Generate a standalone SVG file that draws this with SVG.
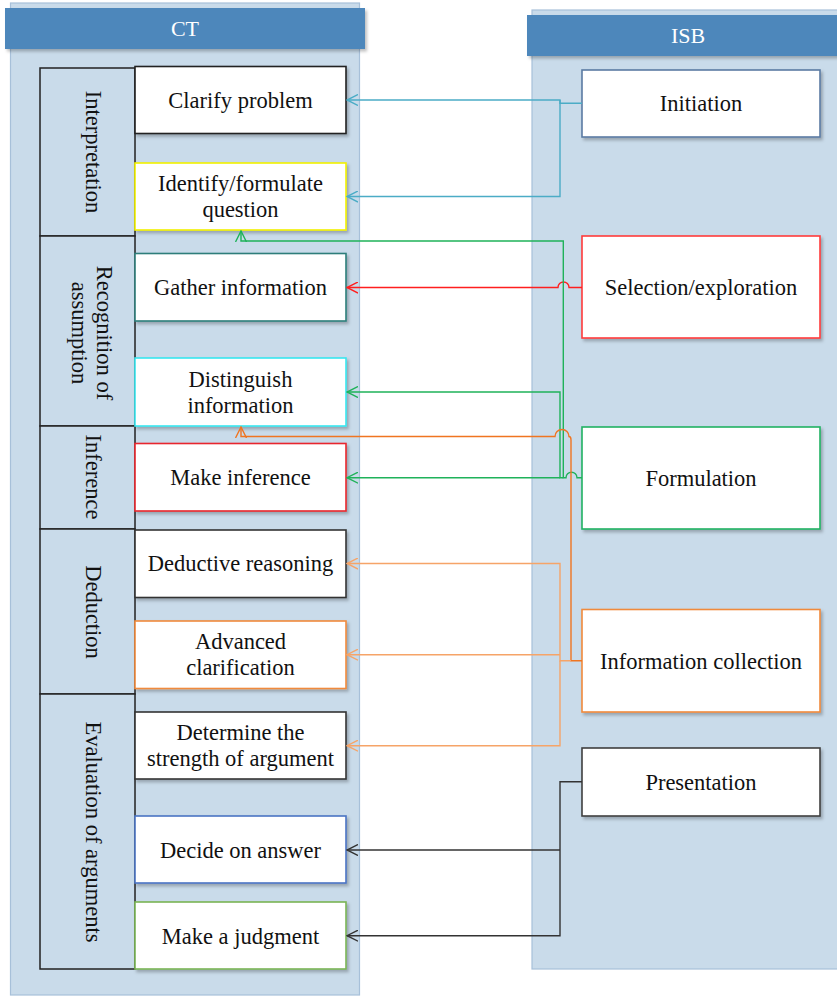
<svg xmlns="http://www.w3.org/2000/svg" width="837" height="996" viewBox="0 0 837 996">
<style>
  .panel{fill:#c9dbea;stroke:#a7c0d9;stroke-width:1.2}
  .hdr{fill:#4e87bb;filter:url(#sh)}
  .hdrt{font-family:"Liberation Serif","Times New Roman",serif;font-size:22px;fill:#ffffff;text-anchor:middle}
  .cat{fill:#c9dbea;stroke:#222;stroke-width:1.5}
  .box{fill:#ffffff;stroke-width:1.6;filter:url(#sh)}
  .t{font-family:"Liberation Serif","Times New Roman",serif;font-size:22.5px;fill:#111;text-anchor:middle;dominant-baseline:central}
  .vt{font-family:"Liberation Serif","Times New Roman",serif;font-size:22.5px;fill:#111;text-anchor:middle;dominant-baseline:central}
  .c{fill:none;stroke-width:1.4}
</style>
<defs>
  <filter id="sh" x="-10%" y="-10%" width="130%" height="130%">
    <feDropShadow dx="2" dy="2.5" stdDeviation="1.5" flood-color="#000" flood-opacity="0.25"/>
  </filter>
  <marker id="aB" viewBox="0 0 12 12" refX="11" refY="6" markerWidth="12" markerHeight="12" markerUnits="userSpaceOnUse" orient="auto"><path d="M0,0.5 L11,6 L0,11.5" fill="none" stroke="#4bacc6" stroke-width="1.4"/></marker>
  <marker id="aR" viewBox="0 0 12 12" refX="11" refY="6" markerWidth="12" markerHeight="12" markerUnits="userSpaceOnUse" orient="auto"><path d="M0,0.5 L11,6 L0,11.5" fill="none" stroke="#ff1f1f" stroke-width="1.4"/></marker>
  <marker id="aG" viewBox="0 0 12 12" refX="11" refY="6" markerWidth="12" markerHeight="12" markerUnits="userSpaceOnUse" orient="auto"><path d="M0,0.5 L11,6 L0,11.5" fill="none" stroke="#1fb25a" stroke-width="1.4"/></marker>
  <marker id="aO" viewBox="0 0 12 12" refX="11" refY="6" markerWidth="12" markerHeight="12" markerUnits="userSpaceOnUse" orient="auto"><path d="M0,0.5 L11,6 L0,11.5" fill="none" stroke="#f07521" stroke-width="1.4"/></marker>
  <marker id="aL" viewBox="0 0 12 12" refX="11" refY="6" markerWidth="12" markerHeight="12" markerUnits="userSpaceOnUse" orient="auto"><path d="M0,0.5 L11,6 L0,11.5" fill="none" stroke="#f6a468" stroke-width="1.4"/></marker>
  <marker id="aK" viewBox="0 0 12 12" refX="11" refY="6" markerWidth="12" markerHeight="12" markerUnits="userSpaceOnUse" orient="auto"><path d="M0,0.5 L11,6 L0,11.5" fill="none" stroke="#333333" stroke-width="1.4"/></marker>
</defs>
<rect width="837" height="996" fill="#ffffff"/>

<g id="panel-ct">
  <rect class="panel" x="10.5" y="3" width="349" height="992"/>
  <rect class="hdr" x="5" y="8" width="360" height="41"/>
  <text class="hdrt" x="185" y="36">CT</text>
</g>
<g id="panel-isb">
  <rect class="panel" x="532" y="10" width="310" height="959"/>
  <rect class="hdr" x="527" y="15" width="315" height="41"/>
  <text class="hdrt" x="688" y="43">ISB</text>
</g>

<g id="cat-interpretation">
  <rect class="cat" x="40" y="68" width="95" height="168"/>
  <text class="vt" transform="translate(93,152) rotate(90)">Interpretation</text>
</g>
<g id="cat-recognition">
  <rect class="cat" x="40" y="236" width="95" height="190"/>
  <text class="vt" transform="translate(92.5,333) rotate(90)"><tspan x="0" y="-12.5">Recognition of</tspan><tspan x="0" y="12.5">assumption</tspan></text>
</g>
<g id="cat-inference">
  <rect class="cat" x="40" y="426" width="95" height="103"/>
  <text class="vt" transform="translate(93,477) rotate(90)">Inference</text>
</g>
<g id="cat-deduction">
  <rect class="cat" x="40" y="529" width="95" height="165"/>
  <text class="vt" transform="translate(93,612) rotate(90)">Deduction</text>
</g>
<g id="cat-evaluation">
  <rect class="cat" x="40" y="694" width="95" height="275"/>
  <text class="vt" transform="translate(93,832) rotate(90)">Evaluation of arguments</text>
</g>

<g id="clarify-problem">
  <rect class="box" x="135" y="66.5" width="211" height="67" stroke="#222222"/>
  <text class="t" x="240.5" y="100">Clarify problem</text>
</g>
<g id="identify-question">
  <rect class="box" x="135" y="163" width="211" height="67" stroke="#f2f000"/>
  <text class="t" x="240.5" y="183.5">Identify/formulate</text>
  <text class="t" x="240.5" y="209.5">question</text>
</g>
<g id="gather-information">
  <rect class="box" x="135" y="253.5" width="211" height="67.5" stroke="#2e7d7a"/>
  <text class="t" x="240.5" y="287">Gather information</text>
</g>
<g id="distinguish-information">
  <rect class="box" x="135" y="358" width="211" height="68" stroke="#3ae6ef"/>
  <text class="t" x="240.5" y="379">Distinguish</text>
  <text class="t" x="240.5" y="405">information</text>
</g>
<g id="make-inference">
  <rect class="box" x="135" y="443.5" width="211" height="67.5" stroke="#e8262e"/>
  <text class="t" x="240.5" y="477">Make inference</text>
</g>
<g id="deductive-reasoning">
  <rect class="box" x="135" y="530" width="211" height="67.5" stroke="#333333"/>
  <text class="t" x="240.5" y="563.5">Deductive reasoning</text>
</g>
<g id="advanced-clarification">
  <rect class="box" x="135" y="621" width="211" height="67.5" stroke="#f08a3c"/>
  <text class="t" x="240.5" y="641.5">Advanced</text>
  <text class="t" x="240.5" y="667.5">clarification</text>
</g>
<g id="determine-strength">
  <rect class="box" x="135" y="712" width="211" height="67" stroke="#333333"/>
  <text class="t" x="240.5" y="732.5">Determine the</text>
  <text class="t" x="240.5" y="758.5">strength of argument</text>
</g>
<g id="decide-answer">
  <rect class="box" x="135" y="816" width="211" height="67" stroke="#4a74c4"/>
  <text class="t" x="240.5" y="850">Decide on answer</text>
</g>
<g id="make-judgment">
  <rect class="box" x="135" y="902" width="211" height="67" stroke="#7ab555"/>
  <text class="t" x="240.5" y="936">Make a judgment</text>
</g>

<g id="initiation">
  <rect class="box" x="582" y="70" width="238" height="67" stroke="#5a7ba3"/>
  <text class="t" x="701" y="103">Initiation</text>
</g>
<g id="selection-exploration">
  <rect class="box" x="582" y="236" width="238" height="102" stroke="#ff3b3b"/>
  <text class="t" x="701" y="287">Selection/exploration</text>
</g>
<g id="formulation">
  <rect class="box" x="582" y="427" width="238" height="102" stroke="#21b263"/>
  <text class="t" x="701" y="478">Formulation</text>
</g>
<g id="information-collection">
  <rect class="box" x="582" y="609.5" width="238" height="102.5" stroke="#f08a3c"/>
  <text class="t" x="701" y="661">Information collection</text>
</g>
<g id="presentation">
  <rect class="box" x="582" y="748" width="238" height="68" stroke="#404040"/>
  <text class="t" x="701" y="782">Presentation</text>
</g>

<g id="connectors">
  <path class="c" stroke="#4bacc6" d="M582,103.3 H560 V100 H347" marker-end="url(#aB)"/>
  <path class="c" stroke="#4bacc6" d="M560,100 V196.5 H347" marker-end="url(#aB)"/>
  <path class="c" stroke="#ff1f1f" d="M582,287.5 H569 A5.5,5.5 0 0 0 558,287.5 H347" marker-end="url(#aR)"/>
  <path class="c" stroke="#1fb25a" d="M582,477.7 H577 A5.5,5.5 0 0 0 566,477.7 H563.3 V241 H241 V231" marker-end="url(#aG)"/>
  <path class="c" stroke="#1fb25a" d="M563.3,477.7 H560 V392 H347" marker-end="url(#aG)"/>
  <path class="c" stroke="#1fb25a" d="M560,477.7 H347" marker-end="url(#aG)"/>
  <path class="c" stroke="#f07521" d="M582,660.7 H571 V440 Q571,436.5 569,436.5 A7,7 0 0 0 555,436.5 H241 V427" marker-end="url(#aO)"/>
  <path class="c" stroke="#f6a468" d="M571,660.7 H560 V563.5 H347" marker-end="url(#aL)"/>
  <path class="c" stroke="#f6a468" d="M560,654.7 H347" marker-end="url(#aL)"/>
  <path class="c" stroke="#f6a468" d="M560,660.7 V745.7 H347" marker-end="url(#aL)"/>
  <path class="c" stroke="#333333" d="M582,781.7 H560 V935.7 H347" marker-end="url(#aK)"/>
  <path class="c" stroke="#333333" d="M560,850 H347" marker-end="url(#aK)"/>
</g>
</svg>
